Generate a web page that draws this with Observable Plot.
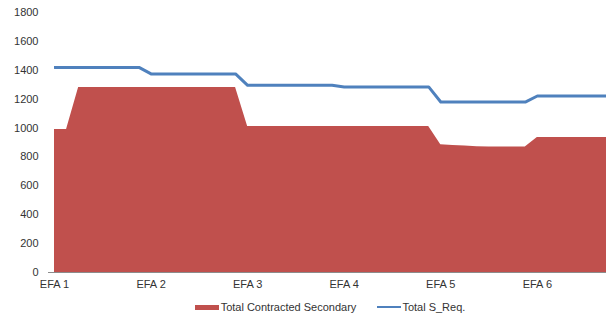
<!DOCTYPE html>
<html>
<head>
<meta charset="utf-8">
<script src="https://cdn.jsdelivr.net/npm/d3@7"></script>
<script src="https://cdn.jsdelivr.net/npm/@observablehq/plot@0.6"></script>
<style>
  html, body { margin: 0; padding: 0; background: #fff; }
  body { width: 606px; height: 319px; overflow: hidden; font-family: "Liberation Sans", Arial, sans-serif; }
  #legend { display: flex; justify-content: center; align-items: center; height: 24px; padding-left: 54px; font-size: 11px; color: #333; }
  .item { display: flex; align-items: center; }
  .sw-area { width: 24px; height: 5px; background: #C0504D; margin-right: 2px; }
  .sw-line { width: 24px; height: 2.5px; background: #4F81BD; margin-right: 1px; }
</style>
</head>
<body>
<div id="chart"></div>
<div id="legend">
  <div class="item"><div class="sw-area"></div><span>Total Contracted Secondary</span></div>
  <div class="item" style="margin-left:21px"><div class="sw-line"></div><span>Total S_Req.</span></div>
</div>
<script>
// Settlement-period index within the day (8 per EFA block)
const periods = [0,1,2,3,4,5,6,7,8,9,10,11,12,13,14,15,16,17,18,19,20,21,22,23,24,25,26,27,28,29,30,31,32,33,34,35,36,37,38,39,40,41,42,43,44,45,46,47];
const contractedSecondary = [990,990,1280,1280,1280,1280,1280,1280,1280,1280,1280,1280,1280,1280,1280,1280,1010,1010,1010,1010,1010,1010,1010,1010,1010,1010,1010,1010,1010,1010,1010,1010,885,880,875,870,868,868,868,868,935,935,935,935,935,935,935,935];
const totalSReq = [1420,1420,1420,1420,1420,1420,1420,1420,1375,1375,1375,1375,1375,1375,1375,1375,1296,1296,1296,1296,1296,1296,1296,1296,1285,1285,1285,1285,1285,1285,1285,1285,1180,1180,1180,1180,1180,1180,1180,1180,1222,1222,1222,1222,1222,1222,1222,1222];
const efaTicks = [0, 8, 16, 24, 32, 40];
const efaLabels = ["EFA 1", "EFA 2", "EFA 3", "EFA 4", "EFA 5", "EFA 6"];
const yTicks = [0, 200, 400, 600, 800, 1000, 1200, 1400, 1600, 1800];

const data = periods.map((p, i) => ({p, sec: contractedSecondary[i], req: totalSReq[i]}));

const chart = Plot.plot({
  width: 606,
  height: 295,
  marginLeft: 54,
  marginRight: 0,
  marginTop: 12,
  marginBottom: 23,
  style: {fontFamily: "Liberation Sans, Arial, sans-serif", fontSize: "11px", color: "#333", background: "#fff"},
  x: {domain: [0, 45.73], ticks: efaTicks, tickFormat: d => efaLabels[efaTicks.indexOf(d)], tickSize: 0, tickPadding: 8, label: null},
  y: {domain: [0, 1800], ticks: yTicks, tickFormat: d => String(d), tickSize: 0, tickPadding: 16, label: null},
  marks: [
    Plot.areaY(data, {x: "p", y: "sec", fill: "#C0504D", clip: true}),
    Plot.lineY(data, {x: "p", y: "req", stroke: "#4F81BD", strokeWidth: 3, clip: true}),
    Plot.ruleY([0], {stroke: "#8c8c8c", strokeWidth: 1, insetLeft: -6})
  ]
});
document.getElementById("chart").appendChild(chart);
</script>
</body>
</html>
